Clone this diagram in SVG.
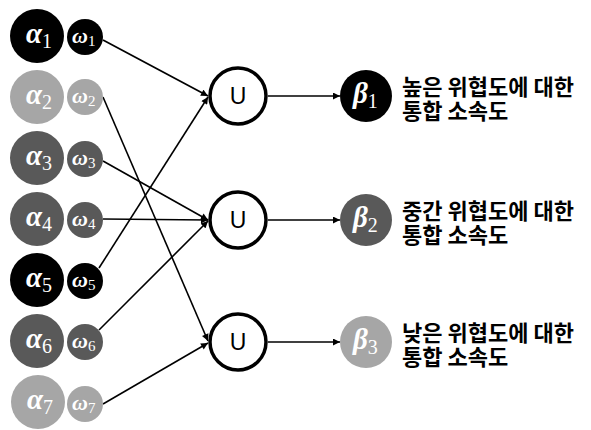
<svg xmlns="http://www.w3.org/2000/svg" width="591" height="430" viewBox="0 0 591 430">
<defs>
<marker id="ah" viewBox="0 0 10 10" refX="10" refY="5" markerWidth="8" markerHeight="7" markerUnits="userSpaceOnUse" orient="auto">
<path d="M0,0 L10,5 L0,10 z" fill="#000"/>
</marker>
</defs>
<style>
.blk{fill:#000}
.lg{fill:#a6a6a6}
.dg{fill:#595959}
.a{font-family:"Liberation Serif","DejaVu Serif",serif;font-style:italic;font-weight:bold;font-size:29px;fill:#fff}
.w{font-family:"Liberation Serif","DejaVu Serif",serif;font-style:italic;font-weight:bold;font-size:22px;fill:#fff}
.sa{font-family:"Liberation Serif","DejaVu Serif",serif;font-style:normal;font-weight:normal;font-size:20px}
.sw{font-family:"Liberation Serif","DejaVu Serif",serif;font-style:normal;font-weight:normal;font-size:15px}
.u{fill:#fff;stroke:#000;stroke-width:3.5}
.ut{font-family:"Liberation Sans",Arial,sans-serif;font-size:23px;fill:#000;text-anchor:middle}
.lbl{font-family:"Noto Sans CJK KR","Noto Sans",sans-serif;font-weight:bold;font-size:22px;fill:#000}
.c{stroke:#000;stroke-width:1.6;fill:none;marker-end:url(#ah)}
</style>
<g id="connectors">
<line class="c" x1="103" y1="40" x2="208" y2="96"/>
<line class="c" x1="103" y1="97" x2="208" y2="341"/>
<line class="c" x1="103" y1="161" x2="208" y2="220"/>
<line class="c" x1="103" y1="219" x2="208" y2="220"/>
<line class="c" x1="99" y1="268" x2="208" y2="97"/>
<line class="c" x1="99" y1="330" x2="208" y2="221"/>
<line class="c" x1="103" y1="404" x2="208" y2="343"/>
<line class="c" x1="268" y1="96" x2="340" y2="96"/>
<line class="c" x1="268" y1="220" x2="340" y2="220"/>
<line class="c" x1="268" y1="342" x2="340" y2="342"/>
</g>
<g id="alpha1"><circle class="blk" cx="37" cy="36" r="27"/><text class="a" x="26" y="43">α<tspan class="sa" dy="5">1</tspan></text></g>
<g id="omega1"><circle class="blk" cx="85" cy="37" r="18"/><text class="w" x="72" y="43">ω<tspan class="sw" dy="3">1</tspan></text></g>
<g id="alpha2"><circle class="lg" cx="37" cy="97" r="27"/><text class="a" x="26" y="104">α<tspan class="sa" dy="5">2</tspan></text></g>
<g id="omega2"><circle class="lg" cx="85" cy="97" r="18"/><text class="w" x="72" y="103">ω<tspan class="sw" dy="3">2</tspan></text></g>
<g id="alpha3"><circle class="dg" cx="37" cy="158" r="27"/><text class="a" x="26" y="165">α<tspan class="sa" dy="5">3</tspan></text></g>
<g id="omega3"><circle class="dg" cx="85" cy="159" r="18"/><text class="w" x="72" y="165">ω<tspan class="sw" dy="3">3</tspan></text></g>
<g id="alpha4"><circle class="dg" cx="37" cy="219" r="27"/><text class="a" x="26" y="226">α<tspan class="sa" dy="5">4</tspan></text></g>
<g id="omega4"><circle class="dg" cx="85" cy="220" r="18"/><text class="w" x="72" y="226">ω<tspan class="sw" dy="3">4</tspan></text></g>
<g id="alpha5"><circle class="blk" cx="37" cy="280" r="27"/><text class="a" x="26" y="287">α<tspan class="sa" dy="5">5</tspan></text></g>
<g id="omega5"><circle class="blk" cx="85" cy="281" r="18"/><text class="w" x="72" y="287">ω<tspan class="sw" dy="3">5</tspan></text></g>
<g id="alpha6"><circle class="dg" cx="37" cy="341" r="27"/><text class="a" x="26" y="348">α<tspan class="sa" dy="5">6</tspan></text></g>
<g id="omega6"><circle class="dg" cx="85" cy="342" r="18"/><text class="w" x="72" y="348">ω<tspan class="sw" dy="3">6</tspan></text></g>
<g id="alpha7"><circle class="lg" cx="38" cy="402" r="27"/><text class="a" x="27" y="409">α<tspan class="sa" dy="5">7</tspan></text></g>
<g id="omega7"><circle class="lg" cx="85" cy="404" r="18"/><text class="w" x="72" y="410">ω<tspan class="sw" dy="3">7</tspan></text></g>
<g id="union1"><circle class="u" cx="238" cy="96" r="28"/><text class="ut" x="238" y="104">U</text></g>
<g id="union2"><circle class="u" cx="238" cy="220" r="28"/><text class="ut" x="238" y="228">U</text></g>
<g id="union3"><circle class="u" cx="238" cy="342" r="28"/><text class="ut" x="238" y="350">U</text></g>
<g id="beta1"><circle class="blk" cx="366" cy="96" r="26"/><text class="a" x="353" y="103">β<tspan class="sa" dy="5">1</tspan></text>
<text class="lbl" x="402" y="95">높은 위협도에 대한</text><text class="lbl" x="402" y="119">통합 소속도</text></g>
<g id="beta2"><circle class="dg" cx="366" cy="220" r="26"/><text class="a" x="353" y="227">β<tspan class="sa" dy="5">2</tspan></text>
<text class="lbl" x="402" y="219">중간 위협도에 대한</text><text class="lbl" x="402" y="243">통합 소속도</text></g>
<g id="beta3"><circle class="lg" cx="366" cy="342" r="26"/><text class="a" x="353" y="349">β<tspan class="sa" dy="5">3</tspan></text>
<text class="lbl" x="402" y="341">낮은 위협도에 대한</text><text class="lbl" x="402" y="365">통합 소속도</text></g>
</svg>
